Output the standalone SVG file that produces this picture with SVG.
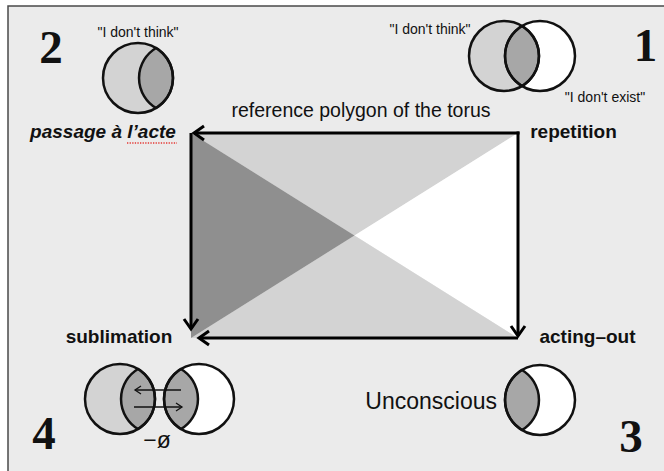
<svg xmlns="http://www.w3.org/2000/svg" width="664" height="471" viewBox="0 0 664 471">
<style>
.lbl{font-family:"Liberation Sans",Arial,sans-serif;fill:#111}
.q{font-size:14px;text-anchor:middle}
.b{font-size:19px;font-weight:bold;text-anchor:middle}
.num{font-family:"Liberation Serif","Times New Roman",serif;font-weight:bold;font-size:47px;fill:#111;text-anchor:middle}
.circ{stroke:#111;stroke-width:2.5;fill:none}
.lens{fill:#a7a7a7;stroke:#111;stroke-width:2.5}
.edge{stroke:#000;stroke-width:3;fill:none;marker-end:url(#ah)}
.thin{stroke:#111;stroke-width:1.3;fill:none;marker-end:url(#ahs)}
</style>
<defs>
<marker id="ah" markerUnits="userSpaceOnUse" viewBox="-12 -10 14 20" refX="0" refY="0" markerWidth="14" markerHeight="20" orient="auto" overflow="visible">
<path d="M-10,-7 L0,0 L-10,7" fill="none" stroke="#000" stroke-width="3"/>
</marker>
<marker id="ahs" markerUnits="userSpaceOnUse" viewBox="-8 -6 10 12" refX="0" refY="0" markerWidth="10" markerHeight="12" orient="auto" overflow="visible">
<path d="M-6,-4 L0,0 L-6,4" fill="none" stroke="#111" stroke-width="1.3"/>
</marker>
</defs>
<rect x="0" y="0" width="664" height="471" fill="#ffffff"/>
<rect x="8" y="6" width="656" height="465" fill="#ebebeb"/>
<path d="M8,471 L8,6 L664,6" fill="none" stroke="#4a4a4a" stroke-width="1.5"/>

<g id="polygon">
<polygon points="191,133 518,133 354.5,235.5" fill="#d3d3d3"/>
<polygon points="518,133 518,338 354.5,235.5" fill="#ffffff"/>
<polygon points="191,338 518,338 354.5,235.5" fill="#d3d3d3"/>
<polygon points="191,133 191,338 354.5,235.5" fill="#8f8f8f"/>
<text class="lbl" x="361" y="117" font-size="19.5" text-anchor="middle">reference polygon of the torus</text>
</g>

<g id="connectors">
<path class="edge" d="M519.5,133 L194,133"/>
<path class="edge" d="M191,133 L191,329"/>
<path class="edge" d="M518,131.5 L518,336"/>
<path class="edge" d="M518,338 L199,338"/>
</g>

<g id="node-repetition">
<text class="lbl b" x="573.5" y="138">repetition</text>
</g>
<g id="node-passage">
<text class="lbl b" x="103" y="138" font-style="italic" font-size="19.5">passage à l’acte</text>
<line x1="127" y1="143" x2="177" y2="143" stroke="#e53935" stroke-width="1.3" stroke-dasharray="1.3,1.3"/>
</g>
<g id="node-sublimation">
<text class="lbl b" x="119" y="343">sublimation</text>
</g>
<g id="node-acting-out">
<text class="lbl b" x="587.5" y="343">acting–out</text>
</g>

<g id="venn1">
<circle cx="504" cy="56" r="35" fill="#d3d3d3"/>
<circle cx="540" cy="56" r="35" fill="#ffffff"/>
<path class="lens" d="M522,26 A35,35 0 0 1 522,86 A35,35 0 0 1 522,26 Z"/>
<circle class="circ" cx="504" cy="56" r="35"/>
<circle class="circ" cx="540" cy="56" r="35"/>
<text class="lbl q" x="430" y="34">"I don't think"</text>
<text class="lbl q" x="605" y="102">"I don't exist"</text>
<text class="num" x="645.5" y="61">1</text>
</g>

<g id="venn2">
<circle cx="138" cy="78" r="35" fill="#d3d3d3"/>
<path class="lens" d="M156,48 A35,35 0 0 1 156,108 A35,35 0 0 1 156,48 Z"/>
<circle class="circ" cx="138" cy="78" r="35"/>
<text class="lbl q" x="138" y="37">"I don't think"</text>
<text class="num" x="51" y="63">2</text>
</g>

<g id="venn3">
<circle cx="540" cy="400" r="35" fill="#ffffff"/>
<path class="lens" d="M522,370 A35,35 0 0 1 522,430 A35,35 0 0 1 522,370 Z"/>
<circle class="circ" cx="540" cy="400" r="35"/>
<text class="lbl" x="497" y="409" font-size="23" text-anchor="end">Unconscious</text>
<text class="num" x="631" y="452">3</text>
</g>

<g id="venn4">
<circle cx="120" cy="399" r="35" fill="#d3d3d3"/>
<path class="lens" d="M138,369 A35,35 0 0 1 138,429 A35,35 0 0 1 138,369 Z"/>
<circle class="circ" cx="120" cy="399" r="35"/>
<circle cx="199" cy="399" r="35" fill="#ffffff"/>
<path class="lens" d="M181,369 A35,35 0 0 1 181,429 A35,35 0 0 1 181,369 Z"/>
<circle class="circ" cx="199" cy="399" r="35"/>
<path class="thin" d="M181,390 L135,390"/>
<path class="thin" d="M134,407 L182,407"/>
<text class="lbl" x="157" y="448" font-size="23" text-anchor="middle">−ø</text>
<text class="num" x="44" y="449">4</text>
</g>
</svg>
